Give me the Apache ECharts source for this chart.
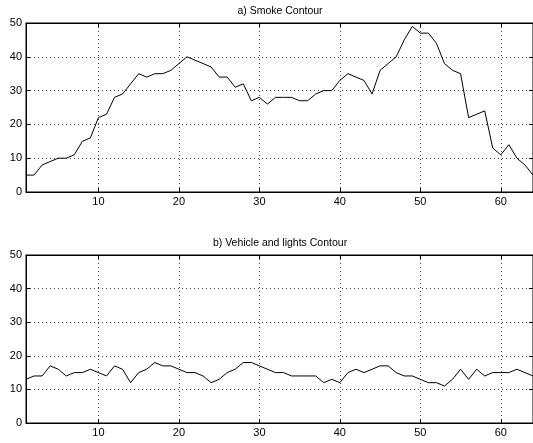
<!DOCTYPE html>
<html>
<head>
<meta charset="utf-8">
<script src="https://cdn.jsdelivr.net/npm/echarts@6/dist/echarts.min.js"></script>
<style>html,body{margin:0;padding:0;background:#fff}#c{width:533px;height:443px}</style>
</head>
<body>
<div id="c"></div>
<script>
var titles = ['a) Smoke Contour', 'b) Vehicle and lights Contour'];
var xTicks = [10, 20, 30, 40, 50, 60];
var smoke = [5,5,8,9,10,10,11,15,16,22,23,28,29,32,35,34,35,35,36,38,40,39,38,37,34,34,31,32,27,28,26,
  28,28,28,27,27,29,30,30,33,35,34,33,29,36,38,40,45,49,47,47,44,38,36,35,22,23,24,13,11,14,10,8,5];
var vehicle = [13,14,14,17,16,14,15,15,16,15,14,17,16,12,15,16,18,17,17,16,15,15,14,12,13,15,16,18,18,17,16,
  15,15,14,14,14,14,12,13,12,15,16,15,16,17,17,15,14,14,13,12,12,11,13,16,13,16,14,15,15,15,16,15,14];

function pairs(arr){ return arr.map(function(v,i){ return [i+1, v]; }); }

var font = 'Liberation Sans, Arial, Helvetica, sans-serif';
var grids = [
  {left: 26, top: 23, width: 508, height: 169},
  {left: 26, top: 255, width: 508, height: 168}
];
var xAxes = [], yAxes = [], series = [];
grids.forEach(function(g, k){
  g.show = true; g.borderColor = '#000'; g.borderWidth = 1; g.containLabel = false;
  xAxes.push({
    type: 'value', gridIndex: k, min: 1, max: 64,
    axisLine: {show: true, onZero: false, lineStyle: {color: '#000'}},
    axisTick: {show: true, inside: true, length: 4, customValues: xTicks, lineStyle: {color: '#000'}},
    axisLabel: {show: true, customValues: xTicks, margin: 4, color: '#000', fontSize: 11, fontFamily: font},
    splitLine: {show: true, lineStyle: {color: '#444', width: 1, type: [1, 3]}}
  });
  xAxes.push({
    type: 'value', gridIndex: k, min: 1, max: 64, position: 'top',
    axisLine: {show: true, onZero: false, lineStyle: {color: '#000'}},
    axisTick: {show: true, inside: true, length: 4, customValues: xTicks, lineStyle: {color: '#000'}},
    axisLabel: {show: false}, splitLine: {show: false}
  });
  yAxes.push({
    type: 'value', gridIndex: k, min: 0, max: 50, interval: 10,
    axisLine: {show: true, onZero: false, lineStyle: {color: '#000'}},
    axisTick: {show: true, inside: true, length: 4, lineStyle: {color: '#000'}},
    axisLabel: {show: true, margin: 4, color: '#000', fontSize: 11, fontFamily: font},
    splitLine: {show: true, lineStyle: {color: '#444', width: 1, type: [1, 3]}}
  });
  yAxes.push({
    type: 'value', gridIndex: k, min: 0, max: 50, interval: 10, position: 'right',
    axisLine: {show: true, onZero: false, lineStyle: {color: '#000'}},
    axisTick: {show: true, inside: true, length: 4, lineStyle: {color: '#000'}},
    axisLabel: {show: false}, splitLine: {show: false}
  });
});
[smoke, vehicle].forEach(function(d, k){
  series.push({
    type: 'line', xAxisIndex: k*2, yAxisIndex: k*2, data: pairs(d),
    showSymbol: false, symbol: 'none', animation: false,
    lineStyle: {color: '#000', width: 1}
  });
});

var chart = echarts.init(document.getElementById('c'), null, {renderer: 'canvas'});
chart.setOption({
  backgroundColor: '#fff',
  animation: false,
  grid: grids,
  xAxis: xAxes,
  yAxis: yAxes,
  series: series,
  graphic: [
    {type: 'text', x: 280, y: 11, style: {text: titles[0], align: 'center', verticalAlign: 'middle', fontSize: 10.5, fontFamily: font, fill: '#000'}},
    {type: 'text', x: 280, y: 243, style: {text: titles[1], align: 'center', verticalAlign: 'middle', fontSize: 10.5, fontFamily: font, fill: '#000'}}
  ]
});
</script>
</body>
</html>
